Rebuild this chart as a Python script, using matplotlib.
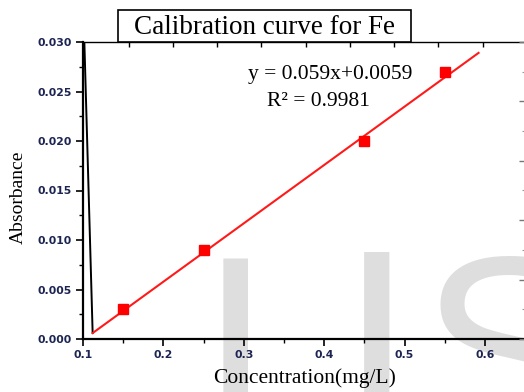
import matplotlib.pyplot as plt
from matplotlib.patches import Rectangle
from matplotlib.ticker import MultipleLocator, FixedLocator

# Calibration standards (mg/L) and measured absorbance
conc = [0.15, 0.25, 0.45, 0.55]
absorb = [0.003, 0.009, 0.020, 0.027]

# Fitted line as drawn (end points)
fit_x = [0.112, 0.592]
fit_y = [0.0006, 0.0289]

# Stray black segment near the left axis
stray_x = [0.1015, 0.112]
stray_y = [0.0305, 0.0006]

# Odd tick sets on the top and right frames
top_ticks = [0.157, 0.212, 0.267, 0.322, 0.377, 0.432, 0.487, 0.542, 0.598]

serif = "Liberation Serif"
tick_color = "#1c2452"
W, H = 524, 392

fig = plt.figure(figsize=(5.24, 3.92), dpi=100)
fig.patch.set_facecolor("white")

# Watermark letters behind everything
wm = dict(color="#dedede", va="baseline", zorder=-5)
fig.text(199 / W, 1 - 440 / H, "I", family="Liberation Sans", fontsize=190,
         ha="left", **wm)
fig.text(414 / W, 1 - 440 / H, "J", family="DejaVu Sans", fontsize=184,
         ha="right", **wm)
fig.text(420 / W, 1 - 440 / H, "S", family="Liberation Sans", fontsize=190,
         ha="left", **wm)

ax = fig.add_axes([83 / W, 1 - 339 / H, (525 - 83) / W, (339 - 42) / H])
ax.set_facecolor("none")

ax.plot(stray_x, stray_y, color="black", lw=1.4, zorder=3)
ax.plot(fit_x, fit_y, color="#ff1a1a", lw=1.5, zorder=3)
ax.plot(conc, absorb, "s", color="#ff0000", ms=6.5, zorder=4)

xlim = (0.1, 0.1 + (525 - 83) / 804)
ax.set_xlim(*xlim)
ax.set_ylim(0, 0.030)

ax.xaxis.set_major_locator(FixedLocator([0.1, 0.2, 0.3, 0.4, 0.5, 0.6]))
ax.xaxis.set_minor_locator(FixedLocator([0.15, 0.25, 0.35, 0.45, 0.55]))
ax.yaxis.set_major_locator(MultipleLocator(0.005))
ax.yaxis.set_minor_locator(MultipleLocator(0.0025))
ax.xaxis.set_major_formatter(plt.FormatStrFormatter("%.1f"))
ax.yaxis.set_major_formatter(plt.FormatStrFormatter("%.3f"))

ax.tick_params(axis="both", which="major", direction="out", length=5, width=1.2,
               labelsize=7.8, labelcolor=tick_color, pad=3)
ax.tick_params(axis="both", which="minor", direction="out", length=3, width=1.0)
for lab in ax.get_xticklabels() + ax.get_yticklabels():
    lab.set_fontweight("bold")

ax.spines["left"].set_linewidth(1.6)
ax.spines["bottom"].set_linewidth(1.6)
ax.spines["top"].set_linewidth(1.0)
ax.spines["right"].set_linewidth(1.0)
ax.spines["right"].set_color("#666666")

# top frame ticks
top = ax.twiny()
top.set_xlim(*xlim)
top.xaxis.set_major_locator(FixedLocator(top_ticks))
top.tick_params(axis="x", direction="in", length=3.5, width=1.0, labeltop=False)
for s in top.spines.values():
    s.set_visible(False)

# right frame ticks
right = ax.twinx()
right.set_ylim(0, 0.030)
right.yaxis.set_major_locator(MultipleLocator(0.006))
right.yaxis.set_minor_locator(MultipleLocator(0.003))
right.tick_params(axis="y", which="major", direction="in", length=4, width=1.0,
                  color="#777777", labelright=False)
right.tick_params(axis="y", which="minor", direction="in", length=2, width=0.8,
                  color="#999999")
for s in right.spines.values():
    s.set_visible(False)

ax.set_xlabel("Concentration(mg/L)", family=serif, fontsize=15.5)
ax.xaxis.set_label_coords((305 - 83) / (525 - 83), -(368 - 339) / (339 - 42))
ax.set_ylabel("Absorbance", family=serif, fontsize=14)
ax.yaxis.set_label_coords(-(83 - 27) / (525 - 83), (339 - 197) / (339 - 42))

ax.text(330 / W, 1 - 74 / H, "y = 0.059x+0.0059", family=serif, fontsize=15.5,
        ha="center", va="center", transform=fig.transFigure)
ax.text(318 / W, 1 - 101 / H, "R\u00b2 = 0.9981", family=serif, fontsize=15.5,
        ha="center", va="center", transform=fig.transFigure)

# title in a framed box
fig.patches.append(Rectangle((118 / W, 1 - 42 / H), 293 / W, 32 / H,
                             transform=fig.transFigure, fc="white", ec="black",
                             lw=1.2, zorder=5))
fig.text(264 / W, 1 - 27 / H, "Calibration curve for Fe", family=serif,
         fontsize=19.5, ha="center", va="center", zorder=6)

fig.savefig("out.png", dpi=100)
